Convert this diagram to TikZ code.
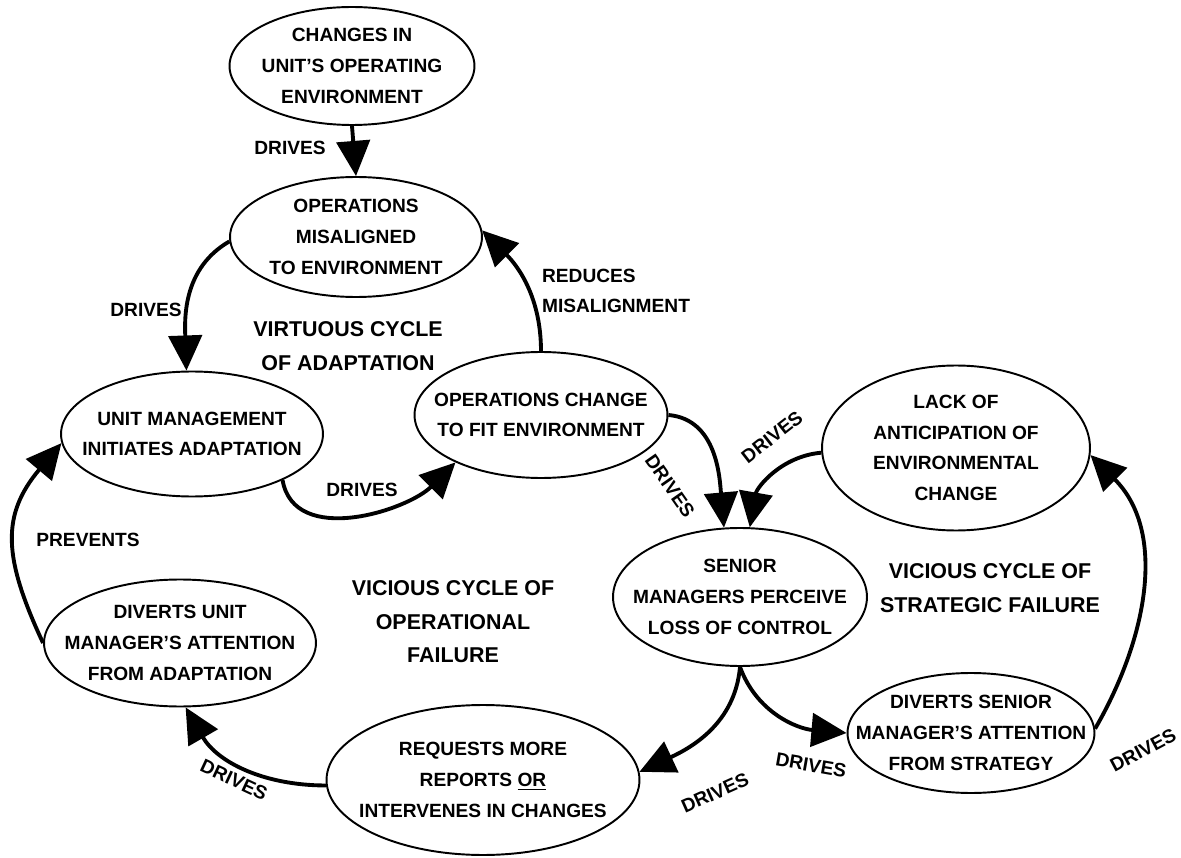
\documentclass[tikz,border=0pt]{standalone}
\usepackage{fontspec}
\setmainfont{Liberation Sans}
\usetikzlibrary{shapes.geometric,arrows.meta}

\begin{document}
\begin{tikzpicture}[x=0.02cm, y=0.02cm,
	bubble/.style={ellipse, draw, line width=1.1pt, align=center, inner xsep=-0.6cm, inner ysep=-0.3cm, font=\bfseries\fontsize{10.9}{17.5}\selectfont},
	lbl/.style={font=\bfseries\fontsize{10.9}{17.5}\selectfont, inner sep=1pt},
	cyc/.style={align=center, font=\bfseries\fontsize{12.2}{19}\selectfont},
	link/.style={line width=2.2pt, -{Triangle[length=20pt,width=19pt]}}]
	\useasboundingbox (0,0) rectangle (1181,-858);

	\node[bubble, minimum width=4.9cm, minimum height=2.36cm] (env) at (352,-66) {CHANGES IN\\UNIT'S OPERATING\\ENVIRONMENT};
	\node[bubble, minimum width=5.04cm, minimum height=2.4cm] (misal) at (356,-237) {OPERATIONS\\MISALIGNED\\TO ENVIRONMENT};
	\node[bubble, minimum width=5.24cm, minimum height=2.5cm] (unit) at (192,-434) {UNIT MANAGEMENT\\INITIATES ADAPTATION};
	\node[bubble, minimum width=5.06cm, minimum height=2.52cm] (opch) at (541,-415) {OPERATIONS CHANGE\\TO FIT ENVIRONMENT};
	\node[bubble, minimum width=5.36cm, minimum height=3.3cm] (lack) at (956,-448) {LACK OF\\ANTICIPATION OF\\ENVIRONMENTAL\\CHANGE};
	\node[bubble, minimum width=5.08cm, minimum height=2.76cm] (senior) at (740,-597) {SENIOR\\MANAGERS PERCEIVE\\LOSS OF CONTROL};
	\node[bubble, minimum width=5.44cm, minimum height=2.54cm] (divu) at (180,-643) {DIVERTS UNIT\\MANAGER'S ATTENTION\\FROM ADAPTATION};
	\node[bubble, minimum width=6.26cm, minimum height=3cm] (req) at (483,-780) {REQUESTS MORE\\REPORTS \underline{OR}\\INTERVENES IN CHANGES};
	\node[bubble, minimum width=4.94cm, minimum height=2.4cm] (divs) at (971,-733) {DIVERTS SENIOR\\MANAGER'S ATTENTION\\FROM STRATEGY};

	\draw[link] (env.south) -- (misal.north);
	\draw[link] (misal.182) to[out=210, in=92] (unit.95);
	\draw[link] (opch.90) to[out=90, in=-45] (misal.3);
	\draw[link] (unit.-27) to[out=-80, in=225] (opch.209);
	\draw[link] (opch.0) to[out=-5, in=95] (senior.103);
	\draw[link] (lack.182) to[out=185, in=80] (senior.82);
	\draw[link] (senior.south) to[out=-95, in=25] (req.3);
	\draw[link] (senior.south) to[out=-70, in=175] (divs.west);
	\draw[link] (req.182) to[out=180, in=-60] (divu.-85);
	\draw[link] (divu.180) to[out=115, in=230, looseness=1.2] (unit.184);
	\draw[link] (divs.2) to[out=60, in=-45] (lack.-3);

	\node[lbl] (d1) at (290,-148) {DRIVES};
	\node[lbl] (d2) at (146,-310) {DRIVES};
	\node[lbl, align=left, anchor=west] (red) at (540,-291) {REDUCES\\MISALIGNMENT};
	\node[lbl] (d3) at (362,-490) {DRIVES};
	\node[lbl, rotate=-55] (d4) at (670,-486) {DRIVES};
	\node[lbl, rotate=38] (d5) at (772,-437) {DRIVES};
	\node[lbl] (prev) at (88,-540) {PREVENTS};
	\node[lbl, rotate=-25] (d6) at (234,-780) {DRIVES};
	\node[lbl, rotate=24] (d7) at (715,-793) {DRIVES};
	\node[lbl, rotate=-10] (d8) at (811,-765) {DRIVES};
	\node[lbl, rotate=28] (d9) at (1143,-750) {DRIVES};

	\node[cyc] (virt) at (348,-346) {VIRTUOUS CYCLE\\OF ADAPTATION};
	\node[cyc] (vop) at (453,-622) {VICIOUS CYCLE OF\\OPERATIONAL\\FAILURE};
	\node[cyc] (vst) at (990,-588) {VICIOUS CYCLE OF\\STRATEGIC FAILURE};
\end{tikzpicture}
\end{document}
